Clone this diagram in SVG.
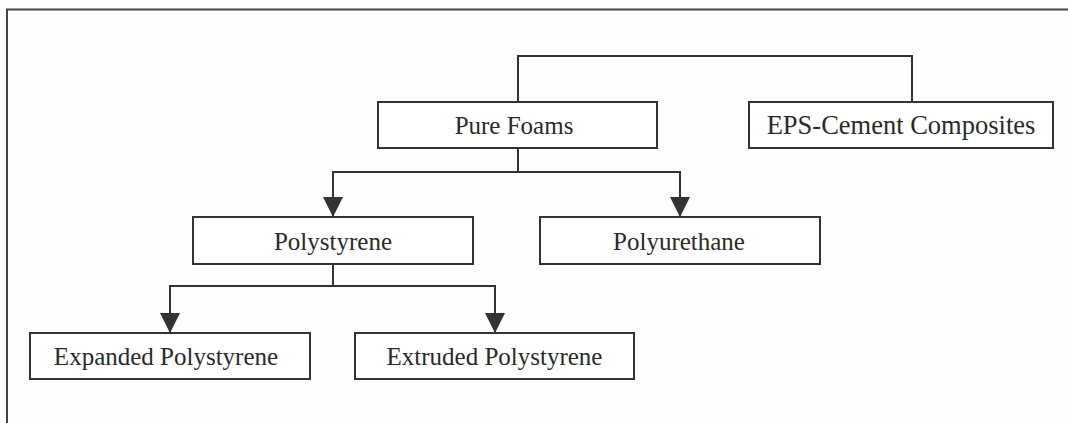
<svg xmlns="http://www.w3.org/2000/svg" width="1068" height="423" viewBox="0 0 1068 423">
  <style>
    .box { fill: #ffffff; stroke: #333333; stroke-width: 2; }
    .lbl { font-family: "Liberation Serif", "Times New Roman", serif; font-size: 25px; fill: #2a2a2a; text-anchor: middle; }
    .wide { font-size: 26.5px; }
    .conn { fill: none; stroke: #333333; stroke-width: 2; }
    .frame { fill: none; stroke: #444444; stroke-width: 2; }
  </style>
  <defs>
    <marker id="arrow" viewBox="0 0 20 20" refX="20" refY="10" markerWidth="20" markerHeight="20" markerUnits="userSpaceOnUse" orient="auto">
      <path d="M0,0 L20,10 L0,20 z" fill="#333333"/>
    </marker>
  </defs>
  <rect x="0" y="0" width="1068" height="423" fill="#fdfdfc"/>
  <path class="frame" d="M7,423 V9.5 H1068"/>

  <g id="connectors">
    <path class="conn" d="M518,102 V56 H912 V102"/>
    <path class="conn" d="M518,148 V172"/>
    <path class="conn" d="M518,172 H333 V217" marker-end="url(#arrow)"/>
    <path class="conn" d="M518,172 H680 V217" marker-end="url(#arrow)"/>
    <path class="conn" d="M333,264 V286"/>
    <path class="conn" d="M333,286 H170 V333" marker-end="url(#arrow)"/>
    <path class="conn" d="M333,286 H495 V333" marker-end="url(#arrow)"/>
  </g>

  <g id="pure-foams">
    <rect class="box" x="378" y="102" width="279" height="46"/>
    <text class="lbl" x="514" y="134">Pure Foams</text>
  </g>
  <g id="eps-cement">
    <rect class="box" x="749" y="102" width="304" height="46"/>
    <text class="lbl wide" x="901" y="134">EPS-Cement Composites</text>
  </g>
  <g id="polystyrene">
    <rect class="box" x="193" y="217" width="280" height="47"/>
    <text class="lbl" x="333" y="250">Polystyrene</text>
  </g>
  <g id="polyurethane">
    <rect class="box" x="540" y="217" width="280" height="47"/>
    <text class="lbl" x="679" y="250">Polyurethane</text>
  </g>
  <g id="expanded-ps">
    <rect class="box" x="30" y="333" width="280" height="46"/>
    <text class="lbl" x="166" y="365">Expanded Polystyrene</text>
  </g>
  <g id="extruded-ps">
    <rect class="box" x="355" y="333" width="279" height="46"/>
    <text class="lbl" x="494.5" y="365">Extruded Polystyrene</text>
  </g>
</svg>
